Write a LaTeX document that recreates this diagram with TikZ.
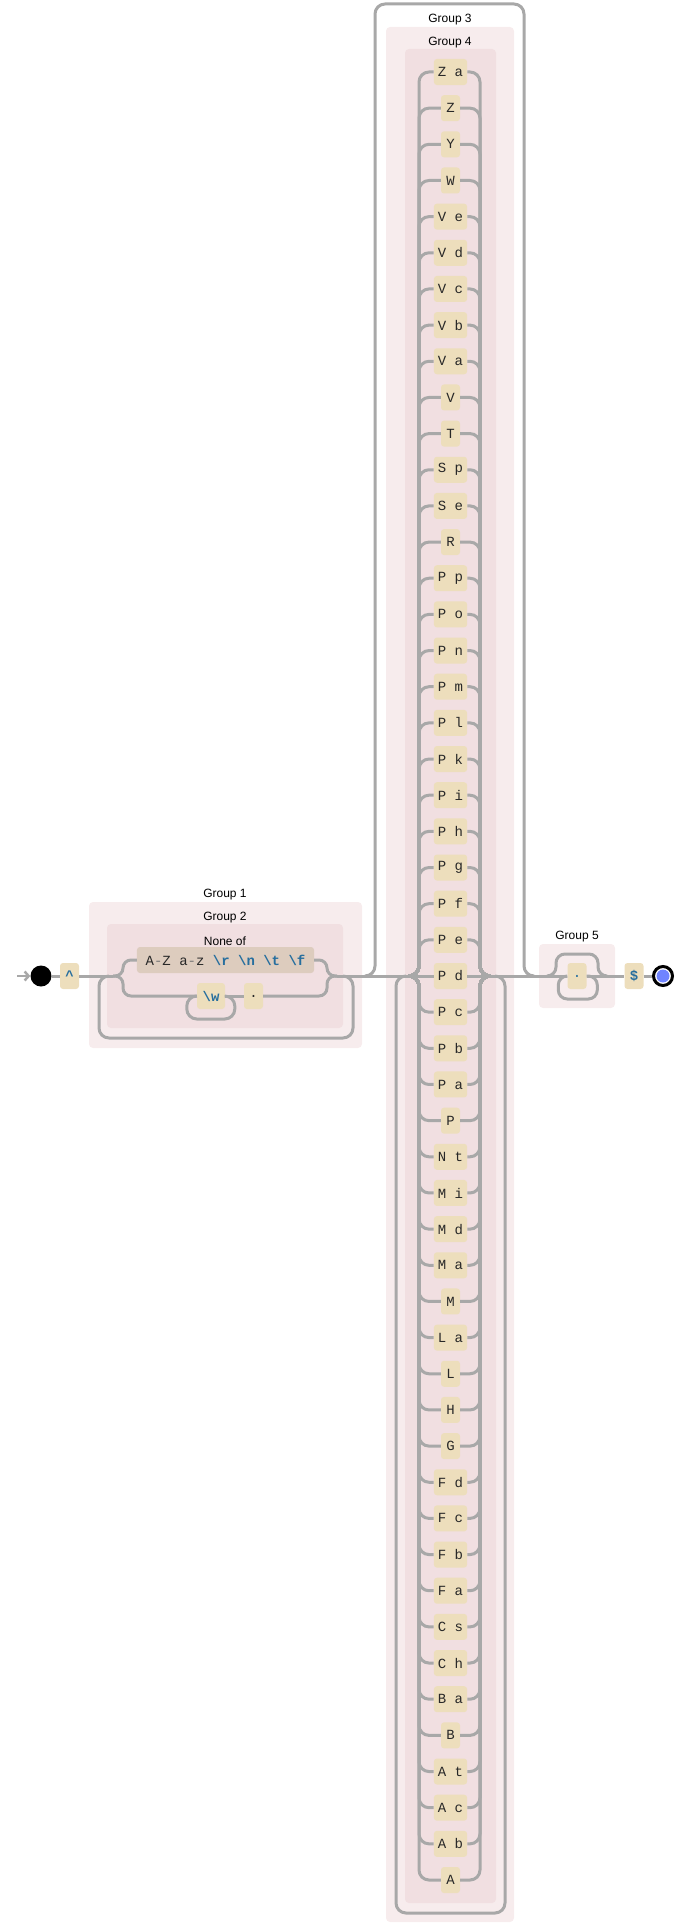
\documentclass[tikz,border=0pt]{standalone}
\usepackage{fontspec}
\setmainfont{Liberation Sans}
\setmonofont{Liberation Mono}
\usetikzlibrary{arrows.meta, positioning}
\definecolor{railgrey}{RGB}{168,168,168}
\definecolor{litfill}{RGB}{237,222,188}
\definecolor{charfill}{RGB}{221,204,190}
\definecolor{litdark}{RGB}{40,40,40}
\definecolor{escblue}{RGB}{38,110,158}
\definecolor{dashgrey}{RGB}{120,120,120}
\definecolor{outerpink}{RGB}{247,236,237}
\definecolor{innerpink}{RGB}{241,223,225}
\definecolor{endblue}{RGB}{112,132,255}
\newcommand{\esc}[1]{\textcolor{escblue}{\bfseries\textbackslash #1}}
\tikzset{
  rail/.style={draw=railgrey, line width=3pt},
  arrow/.style={draw=railgrey, line width=2.5pt, -{Straight Barb[length=4pt, width=9pt]}},
  litbox/.style={fill=litfill, rounded corners=3pt, inner xsep=4pt, inner ysep=0pt, minimum width=19pt, minimum height=26pt, font=\ttfamily\fontsize{14}{16}\selectfont, text=litdark},
  setbox/.style={fill=charfill, rounded corners=3pt, inner xsep=8.7pt, inner ysep=0pt, minimum height=26pt, font=\ttfamily\fontsize{14}{16}\selectfont, text=litdark},
  grplabel/.style={font=\fontsize{12}{14}\selectfont, inner sep=0pt},
  outerbox/.style={fill=outerpink, rounded corners=4pt},
  innerbox/.style={fill=innerpink, rounded corners=4pt}
}

\begin{document}
\begin{tikzpicture}[x=1pt, y=-1pt]
  \useasboundingbox (0,0) rectangle (687,1927);

  % group boxes
  \fill [outerbox] (89,902) rectangle (362,1048);
  \fill [innerbox] (107,924) rectangle (343,1028);
  \fill [outerbox] (386,27) rectangle (514,1922);
  \fill [innerbox] (405,49) rectangle (496,1903);
  \fill [outerbox] (539,944) rectangle (615,1008);

  \node [grplabel] (lbl1) at (225,895) {Group 1};
  \node [grplabel] (lbl2) at (225,918) {Group 2};
  \node [grplabel] (lblnone) at (225,941) {None of};
  \node [grplabel] (lbl3) at (450,20) {Group 3};
  \node [grplabel] (lbl4) at (450,43) {Group 4};
  \node [grplabel] (lbl5) at (577,937) {Group 5};

  % start and end
  \coordinate (entry) at (17,976);
  \node [circle, fill=black, minimum size=21pt, inner sep=0pt] (start) at (41,976) {};
  \node [circle, draw=black, line width=3pt, fill=white, minimum size=19pt, inner sep=0pt] (finish) at (663,976) {};
  \fill [endblue] (finish.center) circle (6.5);

  \node [litbox] (caret) at (69.5,976) {\textcolor{escblue}{\bfseries\textasciicircum}};
  \node [setbox] (noneof) at (225.5,960) {A\textcolor{dashgrey}{-}Z a\textcolor{dashgrey}{-}z \esc{r} \esc{n} \esc{t} \esc{f}};
  \node [litbox, minimum width=28pt] (word) at (211,996) {\esc{w}};
  \node [litbox] (anych) at (253.5,996) {.};
  \node [litbox] (anyd) at (577,976) {\textcolor{escblue}{.}};
  \node [litbox] (dollar) at (634,976) {\textcolor{escblue}{\bfseries\$}};

  \coordinate (g2in) at (113,976);
  \coordinate (g2lr) at (123,976);
  \coordinate (g2rr) at (327,976);
  \coordinate (g2out) at (337,976);
  \coordinate (g2loopin) at (109,976);
  \coordinate (g2loopout) at (343,976);
  \coordinate (g3skipin) at (365,976);
  \coordinate (g3skipout) at (534,976);
  \coordinate (g4loopin) at (406,976);
  \coordinate (g4loopout) at (495,976);
  \coordinate (g4in) at (409,976);
  \coordinate (g4lr) at (419,976);
  \coordinate (g4rr) at (480,976);
  \coordinate (g4out) at (490,976);
  \coordinate (g5in) at (547,976);
  \coordinate (g5out) at (607,976);

  % alternatives of group 4
  \foreach \lbl [count=\i from 0] in {Z a, Z, Y, W, V e, V d, V c, V b, V a, V, T, S p, S e, R, P p, P o, P n, P m, P l, P k, P i, P h, P g, P f, P e, P d, P c, P b, P a, P, N t, M i, M d, M a, M, L a, L, H, G, F d, F c, F b, F a, C s, C h, B a, B, A t, A c, A b, A} {
    \pgfmathsetmacro\ypos{976+(\i-25)*36.16}
    \node [litbox] (alt\i) at (450.5,\ypos) {\lbl};
    \ifnum\i=25
      \draw [rail] (g4in) -- (alt\i.west);
      \draw [rail] (alt\i.east) -- (g4out);
    \else
      \draw [rail, rounded corners=10pt] (g4in) -- (g4lr) |- (alt\i.west);
      \draw [rail, rounded corners=10pt] (alt\i.east) -| (g4rr) -- (g4out);
    \fi
  }

  % main line
  \draw [arrow] (entry) -- (start.west);
  \draw [rail] (start.east) -- (caret.west);
  \draw [rail] (caret.east) -- (g2in);
  \draw [rail, rounded corners=8pt] (g2in) -- (g2lr) |- (noneof.west);
  \draw [rail, rounded corners=8pt] (g2in) -- (g2lr) |- (word.west);
  \draw [rail] (word.east) -- (anych.west);
  \draw [rail, rounded corners=8pt] (noneof.east) -| (g2rr) -- (g2out);
  \draw [rail, rounded corners=8pt] (anych.east) -| (g2rr) -- (g2out);
  \draw [rail, rounded corners=10pt] (word.west) -- ++(-10,0) -- ++(0,23) -- ++(48,0) -- ++(0,-23) -- (word.east);
  \draw [rail, rounded corners=10pt] (g2loopin) -- ++(-10,0) -- ++(0,62) -- ++(254,0) -- ++(0,-62) -- (g2loopout);
  \draw [rail] (g2out) -- (g4in);
  \draw [rail, rounded corners=10pt] (g3skipin) -- ++(10,0) -- ++(0,-972) -- ++(149,0) -- ++(0,972) -- (g3skipout);
  \draw [rail, rounded corners=10pt] (g4loopin) -- ++(-10,0) -- ++(0,937) -- ++(109,0) -- ++(0,-937) -- (g4loopout);
  \draw [rail] (g4out) -- (anyd.west);
  \draw [rail, rounded corners=9pt] (g5in) -- ++(9,0) -- ++(0,-22) -- ++(42,0) -- ++(0,22) -- (g5out);
  \draw [rail, rounded corners=9pt] (anyd.west) -- ++(-9,0) -- ++(0,23) -- ++(39,0) -- ++(0,-23) -- (anyd.east);
  \draw [rail] (anyd.east) -- (dollar.west);
  \draw [rail] (dollar.east) -- (finish.west);
\end{tikzpicture}
\end{document}
